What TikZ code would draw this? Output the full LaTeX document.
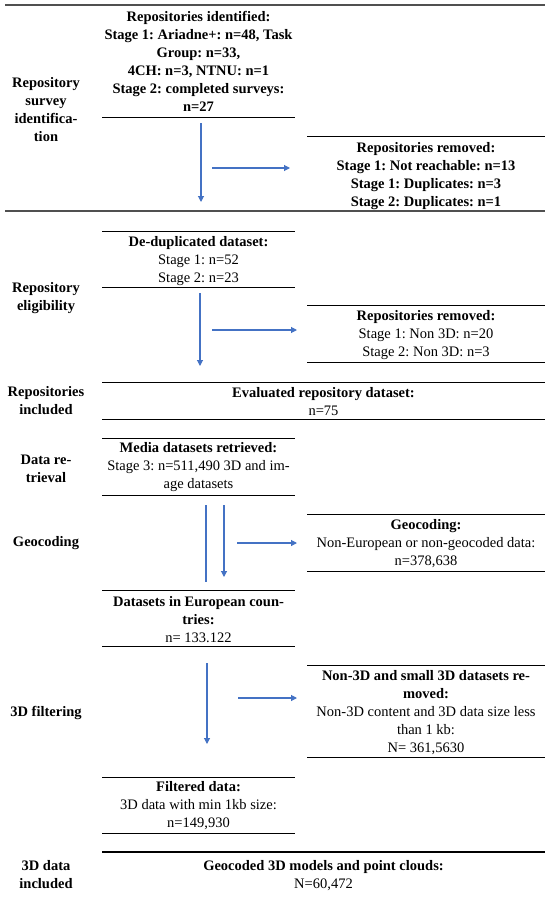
\documentclass[tikz,border=0pt]{standalone}
\usepackage{fontspec}
\setmainfont{Liberation Serif}
\usetikzlibrary{arrows.meta}
\definecolor{arrowblue}{HTML}{4472C4}
\definecolor{rulegray}{HTML}{505050}
\frenchspacing
\begin{document}
\begin{tikzpicture}[x=1bp,y=-1bp,
  txt/.style={font=\fontsize{14.5bp}{18bp}\selectfont\frenchspacing, align=center, inner sep=0pt, text=black},
  btxt/.style={font=\fontsize{14.5bp}{18bp}\selectfont\bfseries\frenchspacing, align=center, inner sep=0pt, text=black},
  arr/.style={draw=arrowblue, line width=1.1bp, -{Triangle[width=6bp,length=6bp]}},
  plain/.style={draw=arrowblue, line width=1.1bp},
  boxrule/.style={draw=black, line width=0.9bp},
  fullrule/.style={draw=rulegray, line width=1.4bp},
  thickrule/.style={draw=black, line width=2bp}]
\useasboundingbox (0,0) rectangle (550,899);

% ---------- Section 1 ----------
\draw[fullrule] (5,5) -- (545,5);
\node[btxt] (lab1) at (46,110) {Repository\\survey\\identifica-\\tion};
\node[btxt] (repid) at (198.5,61) {Repositories identified:\\Stage 1: Ariadne+: n=48, Task\\Group: n=33,\\4CH: n=3, NTNU: n=1\\Stage 2: completed surveys:\\n=27};
\draw[boxrule] (102,117) -- (295,117);
\coordinate (a1s) at (201,123);
\coordinate (a1e) at (201,202);
\draw[arr] (a1s) -- (a1e);
\coordinate (h1s) at (212,168);
\coordinate (h1e) at (290,168);
\draw[arr] (h1s) -- (h1e);
\draw[boxrule] (307,136) -- (545,136);
\node[btxt] (rem1) at (426,176) {Repositories removed:\\Stage 1: Not reachable: n=13\\Stage 1: Duplicates: n=3\\Stage 2: Duplicates: n=1};
\draw[fullrule] (5,211) -- (545,211);

% ---------- Section 2 ----------
\draw[boxrule] (102,231) -- (295,231);
\node[txt] (dedup) at (198.5,261) {{\bfseries De-duplicated dataset:}\\Stage 1: n=52\\Stage 2: n=23};
\draw[boxrule] (102,287) -- (295,287);
\node[btxt] (lab2) at (46,298.5) {Repository\\eligibility};
\coordinate (a2s) at (200,293);
\coordinate (a2e) at (200,366);
\draw[arr] (a2s) -- (a2e);
\coordinate (h2s) at (212,330);
\coordinate (h2e) at (297,330);
\draw[arr] (h2s) -- (h2e);
\draw[boxrule] (307,305) -- (545,305);
\node[txt] (rem2) at (426,335.5) {{\bfseries Repositories removed:}\\Stage 1: Non 3D: n=20\\Stage 2: Non 3D: n=3};
\draw[boxrule] (307,362) -- (545,362);

% ---------- Repositories included ----------
\draw[boxrule] (102,382) -- (545,382);
\node[btxt] (lab3) at (46,401) {Repositories\\included};
\node[txt] (evald) at (323.5,402) {{\bfseries Evaluated repository dataset:}\\n=75};
\draw[boxrule] (102,419) -- (545,419);

% ---------- Data retrieval ----------
\draw[boxrule] (102,438) -- (295,438);
\node[btxt] (lab4) at (46,469) {Data re-\\trieval};
\node[txt] (media) at (198.5,467) {{\bfseries Media datasets retrieved:}\\Stage 3: n=511,490 3D and im-\\age datasets};
\draw[boxrule] (102,495) -- (295,495);

% ---------- Geocoding ----------
\node[btxt] (lab5) at (46,543) {Geocoding};
\coordinate (v3s) at (206,505);
\coordinate (v3e) at (206,582);
\draw[plain] (v3s) -- (v3e);
\coordinate (a3s) at (224,505);
\coordinate (a3e) at (224,577);
\draw[arr] (a3s) -- (a3e);
\coordinate (h3s) at (237,543);
\coordinate (h3e) at (297,543);
\draw[arr] (h3s) -- (h3e);
\draw[boxrule] (307,514) -- (545,514);
\node[txt] (geoc) at (426,544) {{\bfseries Geocoding:}\\Non-European or non-geocoded data:\\n=378,638};
\draw[boxrule] (307,571) -- (545,571);

\draw[boxrule] (102,590) -- (295,590);
\node[txt] (euro) at (198.5,620) {{\bfseries Datasets in European coun-}\\{\bfseries tries:}\\n= 133.122};
\draw[boxrule] (102,646) -- (295,646);

% ---------- 3D filtering ----------
\node[btxt] (lab6) at (46,713) {3D filtering};
\coordinate (a4s) at (207,663);
\coordinate (a4e) at (207,744);
\draw[arr] (a4s) -- (a4e);
\coordinate (h4s) at (238,698);
\coordinate (h4e) at (297,698);
\draw[arr] (h4s) -- (h4e);
\draw[boxrule] (307,665) -- (545,665);
\node[txt] (small) at (426,713) {{\bfseries Non-3D and small 3D datasets re-}\\{\bfseries moved:}\\Non-3D content and 3D data size less\\than 1 kb:\\N= 361,5630};
\draw[boxrule] (307,757) -- (545,757);

\draw[boxrule] (102,777) -- (295,777);
\node[txt] (filt) at (198.5,806) {{\bfseries Filtered data:}\\3D data with min 1kb size:\\n=149,930};
\draw[boxrule] (102,833) -- (295,833);

% ---------- 3D data included ----------
\draw[thickrule] (102,852) -- (545,852);
\node[btxt] (lab7) at (46,875) {3D data\\included};
\node[txt] (final) at (323.5,876) {{\bfseries Geocoded 3D models and point clouds:}\\N=60,472};
\end{tikzpicture}
\end{document}
